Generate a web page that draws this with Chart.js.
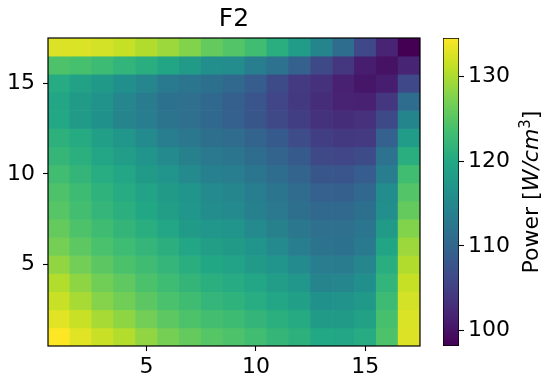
<!DOCTYPE html>
<html>
<head>
<meta charset="utf-8">
<title>F2</title>
<script src="https://cdn.jsdelivr.net/npm/chart.js@4.4.0/dist/chart.umd.min.js"></script>
<style>
  html, body { margin: 0; padding: 0; background: #fff; }
  #wrap { position: relative; width: 554px; height: 389px; }
  #heat { position: absolute; left: 0; top: 0; }
  #cbar { position: absolute; left: 430px; top: 0; }
</style>
</head>
<body>
<div id="wrap">
  <canvas id="heat" width="554" height="389"></canvas>
  <canvas id="cbar" width="124" height="389"></canvas>
</div>
<script>
const chartTitle = 'F2';
const xCells = [1, 2, 3, 4, 5, 6, 7, 8, 9, 10, 11, 12, 13, 14, 15, 16, 17];
const yCells = [1, 2, 3, 4, 5, 6, 7, 8, 9, 10, 11, 12, 13, 14, 15, 16, 17];
const xTicks = [5, 10, 15];
const yTicks = [5, 10, 15];
const colorTicks = [100, 110, 120, 130];

// power per cell, first row is y = 1 (bottom), columns x = 1..17
const power = [
  [134.5, 132.9, 131.5, 130.3, 128.5, 126.9, 125.8, 124.8, 124.2, 123.3, 122.1, 121.3, 120.0, 119.7, 120.4, 124.2, 132.6],
  [132.9, 131.5, 129.7, 128.3, 126.7, 125.3, 124.2, 123.5, 123.0, 121.9, 121.1, 120.3, 118.0, 118.0, 118.9, 123.8, 132.5],
  [131.5, 129.7, 127.8, 126.6, 125.2, 124.0, 123.2, 122.0, 121.5, 120.6, 119.7, 118.6, 116.4, 116.6, 117.6, 122.9, 132.1],
  [130.3, 128.3, 126.6, 125.4, 124.1, 123.1, 121.9, 121.1, 120.4, 119.6, 118.2, 117.2, 114.5, 114.8, 116.2, 121.8, 131.4],
  [128.5, 126.7, 125.2, 124.1, 123.2, 122.0, 120.8, 119.8, 119.1, 118.0, 116.8, 115.4, 113.4, 113.2, 114.8, 120.8, 130.2],
  [126.9, 125.3, 124.0, 123.1, 122.0, 121.0, 119.7, 118.4, 118.0, 117.0, 115.3, 113.5, 112.1, 111.9, 113.0, 119.5, 129.1],
  [125.8, 124.2, 123.2, 121.9, 120.8, 119.7, 118.0, 117.1, 116.8, 115.3, 114.0, 112.6, 111.5, 111.5, 112.4, 118.0, 127.7],
  [124.8, 123.5, 122.0, 121.1, 119.8, 118.4, 117.1, 115.8, 115.3, 113.9, 112.8, 111.4, 110.4, 110.4, 111.6, 116.0, 125.8],
  [124.2, 123.0, 121.5, 120.4, 119.1, 118.0, 116.8, 115.3, 114.8, 113.6, 112.3, 111.0, 109.4, 109.1, 110.6, 115.6, 124.6],
  [123.3, 121.9, 120.6, 119.6, 118.0, 117.0, 115.3, 113.9, 113.6, 112.3, 111.1, 109.8, 107.9, 107.8, 108.8, 113.6, 123.3],
  [122.1, 121.1, 119.7, 118.2, 116.8, 115.3, 114.0, 112.8, 112.3, 111.1, 109.8, 108.4, 106.1, 105.7, 106.6, 111.8, 120.9],
  [121.3, 120.3, 118.6, 117.2, 115.4, 113.5, 112.6, 111.4, 111.0, 109.8, 108.4, 106.5, 104.8, 104.2, 104.3, 109.4, 118.1],
  [120.0, 118.0, 116.4, 114.5, 113.4, 112.1, 111.5, 110.4, 109.4, 107.9, 106.1, 104.8, 103.4, 102.9, 103.3, 106.3, 114.6],
  [119.7, 118.0, 116.6, 114.8, 113.2, 111.9, 111.5, 110.4, 109.1, 107.8, 105.7, 104.2, 102.9, 101.7, 101.5, 104.0, 111.1],
  [120.4, 118.9, 117.6, 116.2, 114.8, 113.0, 112.4, 111.6, 110.6, 108.8, 106.6, 104.3, 103.3, 101.5, 100.4, 101.2, 106.0],
  [124.2, 123.8, 122.9, 121.8, 120.8, 119.5, 118.0, 116.0, 115.6, 113.6, 111.8, 109.4, 106.3, 104.0, 101.2, 100.0, 101.8],
  [132.6, 132.5, 132.1, 131.4, 130.2, 129.1, 127.7, 125.8, 124.6, 123.3, 120.9, 118.1, 114.6, 111.1, 106.0, 101.8, 98.2],
];

const FONT = 'DejaVu Sans';
const VIRIDIS = ['#440154', '#482475', '#414487', '#355f8d', '#2a788e', '#21918c',
  '#22a884', '#44bf70', '#7ad151', '#bddf26', '#fde725'];

const allValues = power.flat();
const vMin = Math.min(...allValues);
const vMax = Math.max(...allValues);

function hexToRgb(hex) {
  const n = parseInt(hex.slice(1), 16);
  return [(n >> 16) & 255, (n >> 8) & 255, n & 255];
}

function viridis(t) {
  t = Math.min(1, Math.max(0, t));
  const p = t * (VIRIDIS.length - 1);
  const i = Math.min(Math.floor(p), VIRIDIS.length - 2);
  const f = p - i;
  const a = hexToRgb(VIRIDIS[i]);
  const b = hexToRgb(VIRIDIS[i + 1]);
  const c = a.map((v, k) => Math.round(v + (b[k] - v) * f));
  return `rgb(${c[0]}, ${c[1]}, ${c[2]})`;
}

const cells = [];
yCells.forEach((yv, ri) => {
  xCells.forEach((xv, ci) => {
    cells.push({ x: xv, y: [yv - 0.5, yv + 0.5], v: power[ri][ci] });
  });
});

const frame = {
  id: 'frame',
  afterDatasetsDraw(chart) {
    const { ctx, chartArea: a } = chart;
    ctx.save();
    ctx.strokeStyle = '#000';
    ctx.lineWidth = 1.2;
    ctx.strokeRect(a.left, a.top, a.right - a.left, a.bottom - a.top);
    ctx.restore();
  },
};

const tickFont = { family: FONT, size: 22 };

new Chart(document.getElementById('heat'), {
  type: 'bar',
  data: {
    datasets: [{
      data: cells,
      backgroundColor: (c) => viridis((c.raw.v - vMin) / (vMax - vMin)),
      borderWidth: 0,
      barPercentage: 1,
      categoryPercentage: 1,
    }],
  },
  options: {
    responsive: false,
    animation: false,
    devicePixelRatio: 1,
    layout: { padding: { left: 0, right: 134, top: 0, bottom: 0 } },
    plugins: {
      legend: { display: false },
      tooltip: { enabled: false },
      title: {
        display: true,
        text: chartTitle,
        color: '#000',
        fullSize: false,
        font: { family: FONT, size: 25, weight: 'normal' },
        padding: { top: 4, bottom: 4 },
      },
    },
    scales: {
      x: {
        type: 'linear',
        min: 0.5,
        max: 17.5,
        offset: false,
        afterBuildTicks: (s) => { s.ticks = xTicks.map((v) => ({ value: v })); },
        afterFit: (s) => { s.height = 43; },
        ticks: { font: tickFont, color: '#000', padding: 3, maxRotation: 0 },
        grid: { offset: false, drawOnChartArea: false, tickLength: 5, color: '#000', tickWidth: 1.1 },
        border: { display: false },
      },
      y: {
        type: 'linear',
        min: 0.5,
        max: 17.5,
        afterBuildTicks: (s) => { s.ticks = yTicks.map((v) => ({ value: v })); },
        afterFit: (s) => { s.width = 48; },
        ticks: { font: tickFont, color: '#000', padding: 8 },
        grid: { drawOnChartArea: false, tickLength: 5, color: '#000', tickWidth: 1.1 },
        border: { display: false },
      },
    },
  },
  plugins: [frame],
});

const cbarLabel = {
  id: 'cbarLabel',
  afterDraw(chart) {
    const { ctx, chartArea: a } = chart;
    const size = 22;
    const parts = [
      { text: 'Power [', font: `${size}px "${FONT}"`, dy: 0 },
      { text: 'W/cm', font: `oblique ${size}px "${FONT}"`, dy: 0 },
      { text: '3', font: `${Math.round(size * 0.7)}px "${FONT}"`, dy: -size * 0.38 },
      { text: ']', font: `${size}px "${FONT}"`, dy: 0 },
    ];
    ctx.save();
    let total = 0;
    parts.forEach((p) => { ctx.font = p.font; p.w = ctx.measureText(p.text).width; total += p.w; });
    ctx.translate(a.right + 71, (a.top + a.bottom) / 2);
    ctx.rotate(-Math.PI / 2);
    ctx.fillStyle = '#000';
    ctx.textBaseline = 'alphabetic';
    let x = -total / 2;
    parts.forEach((p) => {
      ctx.font = p.font;
      ctx.fillText(p.text, x, size * 0.36 + p.dy);
      x += p.w;
    });
    ctx.restore();
  },
};

new Chart(document.getElementById('cbar'), {
  type: 'bar',
  data: {
    datasets: [{
      data: [{ x: 0, y: [vMin, vMax] }],
      backgroundColor: (c) => {
        const area = c.chart.chartArea;
        if (!area) return VIRIDIS[5];
        const g = c.chart.ctx.createLinearGradient(0, area.bottom, 0, area.top);
        VIRIDIS.forEach((col, i) => g.addColorStop(i / (VIRIDIS.length - 1), col));
        return g;
      },
      borderColor: '#000',
      borderWidth: 1,
      borderSkipped: false,
      barPercentage: 1,
      categoryPercentage: 1,
    }],
  },
  options: {
    responsive: false,
    animation: false,
    devicePixelRatio: 1,
    layout: { padding: { left: 13, right: 0, top: 38, bottom: 43 } },
    plugins: { legend: { display: false }, tooltip: { enabled: false } },
    scales: {
      x: { type: 'linear', min: -0.5, max: 0.5, offset: false, display: false },
      y: {
        type: 'linear',
        position: 'right',
        min: vMin,
        max: vMax,
        afterBuildTicks: (s) => { s.ticks = colorTicks.map((v) => ({ value: v })); },
        afterFit: (s) => { s.width = 95; },
        ticks: { font: tickFont, color: '#000', padding: 4 },
        grid: { drawOnChartArea: false, tickLength: 5, color: '#000', tickWidth: 1.1 },
        border: { display: false },
      },
    },
  },
  plugins: [cbarLabel],
});
</script>
</body>
</html>
